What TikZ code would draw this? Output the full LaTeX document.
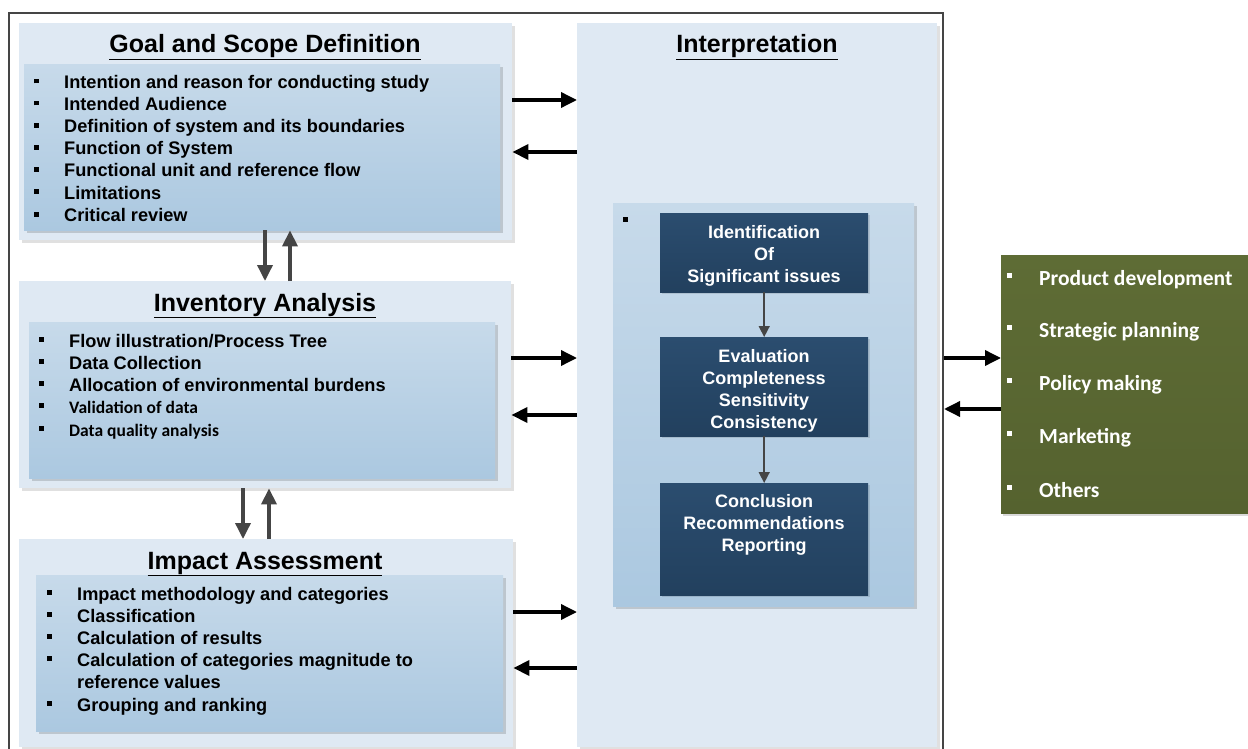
\documentclass[tikz,border=0pt]{standalone}
\usepackage{fontspec}
\setmainfont{Liberation Sans}
\newfontfamily\calibri{Carlito}
\usetikzlibrary{arrows.meta}
\usetikzlibrary{shadows}

\definecolor{paleblue}{HTML}{DFE9F3}
\definecolor{midtop}{HTML}{C7DAEA}
\definecolor{midbot}{HTML}{ABC8E0}
\definecolor{navytop}{HTML}{2B4D6F}
\definecolor{navybot}{HTML}{22405E}
\definecolor{olivetop}{HTML}{5E6C35}
\definecolor{olivebot}{HTML}{55622F}
\definecolor{framegray}{HTML}{454545}

\newcommand{\sqb}{\rule[5.5pt]{4.5pt}{4.5pt}}
\newcommand{\bul}[1]{\makebox[30pt][l]{\sqb}#1}

\begin{document}
\begin{tikzpicture}[x=1pt, y=-1pt,
  panel/.style={anchor=north west, inner sep=0pt, fill=paleblue,
    drop shadow={shadow xshift=2.5pt, shadow yshift=-2.5pt, fill=black, opacity=.12}},
  listbox/.style={anchor=north west, inner sep=0pt, top color=midtop, bottom color=midbot,
    drop shadow={shadow xshift=2.5pt, shadow yshift=-2.5pt, fill=black, opacity=.15}},
  darkbox/.style={anchor=north west, inner sep=0pt, minimum width=208pt, top color=navytop, bottom color=navybot,
    drop shadow={shadow xshift=2pt, shadow yshift=-2pt, fill=black, opacity=.1}},
  olivebox/.style={anchor=north west, inner sep=0pt, top color=olivetop, bottom color=olivebot,
    drop shadow={shadow xshift=2pt, shadow yshift=-2.5pt, fill=black, opacity=.15}},
  title/.style={anchor=base, inner sep=0pt, font=\fontsize{25}{30}\selectfont\bfseries},
  item/.style={anchor=base west, inner sep=0pt, font=\fontsize{18.2}{22}\selectfont\bfseries},
  smallitem/.style={anchor=base west, inner sep=0pt, font=\calibri\fontsize{17.5}{22}\selectfont\bfseries},
  darktext/.style={anchor=base, inner sep=0pt, align=center, text=white, font=\fontsize{18}{22}\selectfont\bfseries},
  useitem/.style={anchor=base west, inner sep=0pt, text=white, font=\calibri\fontsize{21.5}{24}\selectfont\bfseries},
  bigarrow/.style={line width=3.5pt, -{Triangle[length=16pt, width=15pt]}},
  grayarrow/.style={line width=3.5pt, draw=framegray, -{Triangle[length=16pt, width=15pt]}},
  thinarrow/.style={line width=1.5pt, draw=framegray, -{Triangle[length=11pt, width=11pt]}}]
\useasboundingbox (0,0) rectangle (1248,749);
\node(frame) [draw=framegray, line width=2pt, anchor=north west, inner sep=0pt, minimum width=934pt, minimum height=760pt] at (8,12) {};

% goal and scope
\node(goal) [panel, minimum width=493pt, minimum height=217pt] at (19,23) {};
\node(goalin) [listbox, minimum width=476pt, minimum height=166pt] at (24,64) {};
\node(goalt) [title] at (265,53) {\underline{Goal and Scope Definition}};
\node(g1) [item] at (34,89) {\bul{Intention and reason for conducting study}};
\node(g2) [item] at (34,111) {\bul{Intended Audience}};
\node(g3) [item] at (34,133) {\bul{Definition of system and its boundaries}};
\node(g4) [item] at (34,155) {\bul{Function of System}};
\node(g5) [item] at (34,177) {\bul{Functional unit and reference flow}};
\node(g6) [item] at (34,199) {\bul{Limitations}};
\node(g7) [item] at (34,222) {\bul{Critical review}};

% inventory
\node(inv) [panel, minimum width=492pt, minimum height=207pt] at (19,281) {};
\node(invin) [listbox, minimum width=466pt, minimum height=156pt] at (29,322) {};
\node(invt) [title] at (265,311) {\underline{Inventory Analysis}};
\node(i1) [item] at (39,347) {\bul{Flow illustration/Process Tree}};
\node(i2) [item] at (39,369) {\bul{Data Collection}};
\node(i3) [item] at (39,391) {\bul{Allocation of environmental burdens}};
\node(i4) [smallitem] at (39,413) {\bul{Validation of data}};
\node(i5) [smallitem] at (39,436) {\bul{Data quality analysis}};

% impact
\node(imp) [panel, minimum width=494pt, minimum height=208pt] at (19,539) {};
\node(impin) [listbox, minimum width=467pt, minimum height=156pt] at (36,575) {};
\node(impt) [title] at (265,569) {\underline{Impact Assessment}};
\node(m1) [item] at (47,600) {\bul{Impact methodology and categories}};
\node(m2) [item] at (47,622) {\bul{Classification}};
\node(m3) [item] at (47,644) {\bul{Calculation of results}};
\node(m4) [item] at (47,666) {\bul{Calculation of categories magnitude to}};
\node(m5) [item] at (77,688) {reference values};
\node(m6) [item] at (47,711) {\bul{Grouping and ranking}};

% interpretation
\node(interp) [panel, minimum width=360pt, minimum height=724pt] at (577,23) {};
\node(interpin) [listbox, minimum width=301pt, minimum height=403pt] at (613,203) {};
\node(interpt) [title] at (757,53) {\underline{Interpretation}};
\node(ib) [item] at (623,227) {\sqb};
\node(idf) [darkbox, minimum height=79pt] at (660,213) {};
\node(evl) [darkbox, minimum height=99pt] at (660,337) {};
\node(ccl) [darkbox, minimum height=112pt] at (660,483) {};
\node(idft) [darktext] at (764,282) {Identification\\Of\\Significant issues};
\node(evlt) [darktext] at (764,428) {Evaluation\\Completeness\\Sensitivity\\Consistency};
\node(cclt) [darktext] at (764,551) {Conclusion\\Recommendations\\Reporting};

% applications
\node(uses) [olivebox, minimum width=250pt, minimum height=258pt] at (1001,255) {};
\node(u1) [useitem] at (1007,285) {\makebox[32pt][l]{\rule[7.5pt]{5pt}{5pt}}Product development};
\node(u2) [useitem] at (1007,337) {\makebox[32pt][l]{\rule[7.5pt]{5pt}{5pt}}Strategic planning};
\node(u3) [useitem] at (1007,390) {\makebox[32pt][l]{\rule[7.5pt]{5pt}{5pt}}Policy making};
\node(u4) [useitem] at (1007,443) {\makebox[32pt][l]{\rule[7.5pt]{5pt}{5pt}}Marketing};
\node(u5) [useitem] at (1007,497) {\makebox[32pt][l]{\rule[7.5pt]{5pt}{5pt}}Others};

% arrows
\draw[bigarrow] (goal.east |- 0,100) -- (interp.west |- 0,100);
\draw[bigarrow] (interp.west |- 0,152) -- (goal.east |- 0,152);
\draw[bigarrow] (inv.east |- 0,358) -- (interp.west |- 0,358);
\draw[bigarrow] (interp.west |- 0,415) -- (inv.east |- 0,415);
\draw[bigarrow] (imp.east |- 0,612) -- (interp.west |- 0,612);
\draw[bigarrow] (interp.west |- 0,668) -- (imp.east |- 0,668);
\draw[bigarrow] (frame.east |- 0,358) -- (uses.west |- 0,358);
\draw[bigarrow] (uses.west |- 0,409) -- (frame.east |- 0,409);
\draw[grayarrow] (goalin.south -| 265,0) -- (inv.north -| 265,0);
\draw[grayarrow] (inv.north -| 290,0) -- (goalin.south -| 290,0);
\draw[grayarrow] (inv.south -| 243,0) -- (imp.north -| 243,0);
\draw[grayarrow] (imp.north -| 269,0) -- (inv.south -| 269,0);
\draw[thinarrow] (idf.south) -- (evl.north);
\draw[thinarrow] (evl.south) -- (ccl.north);
\end{tikzpicture}
\end{document}
